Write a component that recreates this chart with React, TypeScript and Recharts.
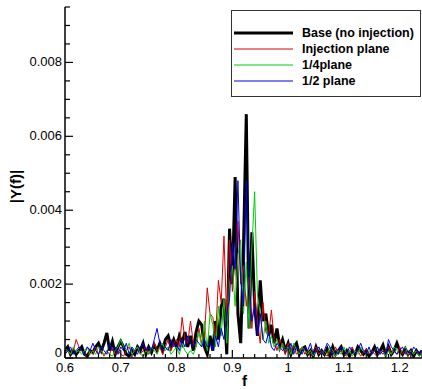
import React from 'react';
import { LineChart, Line, XAxis, YAxis, Legend, Label } from 'recharts';

// frequency samples
const F = [
  0.6, 0.605, 0.61, 0.615, 0.62, 0.625, 0.63, 0.635, 0.64, 0.645,
  0.65, 0.655, 0.66, 0.665, 0.67, 0.675, 0.68, 0.685, 0.69, 0.695,
  0.7, 0.705, 0.71, 0.715, 0.72, 0.725, 0.73, 0.735, 0.74, 0.745,
  0.75, 0.755, 0.76, 0.765, 0.77, 0.775, 0.78, 0.785, 0.79, 0.795,
  0.8, 0.805, 0.81, 0.815, 0.82, 0.825, 0.83, 0.835, 0.84, 0.845,
  0.85, 0.855, 0.86, 0.865, 0.87, 0.875, 0.88, 0.885, 0.89, 0.895,
  0.9, 0.905, 0.91, 0.915, 0.92, 0.925, 0.93, 0.935, 0.94, 0.945,
  0.95, 0.955, 0.96, 0.965, 0.97, 0.975, 0.98, 0.985, 0.99, 0.995,
  1.0, 1.005, 1.01, 1.015, 1.02, 1.025, 1.03, 1.035, 1.04, 1.045,
  1.05, 1.055, 1.06, 1.065, 1.07, 1.075, 1.08, 1.085, 1.09, 1.095,
  1.1, 1.105, 1.11, 1.115, 1.12, 1.125, 1.13, 1.135, 1.14, 1.145,
  1.15, 1.155, 1.16, 1.165, 1.17, 1.175, 1.18, 1.185, 1.19, 1.195,
  1.2, 1.205, 1.21, 1.215, 1.22, 1.225, 1.23, 1.235, 1.24,
];

// |Y(f)| in units of 1e-4
const SCALE = 1e-4;

const BASE = [
  2, 3, 1, 2, 1, 2, 3, 1, 0.5, 2,
  1.5, 3, 4, 2, 4, 6.8, 2, 4.5, 1, 3,
  4.5, 3, 1, 0.5, 2, 1, 3, 2, 4, 1,
  3, 1.5, 3.5, 2, 4, 2, 5, 6, 3, 5,
  3, 6, 4, 7, 3, 6, 2, 7, 10, 9,
  3, 1, 6, 2, 10, 5, 14, 16, 1, 35,
  20, 49, 12, 4, 30, 66, 8, 34, 14, 6,
  21, 10, 12, 6, 9, 4, 8, 3, 5, 2,
  4, 1, 3, 4, 1, 2.5, 3, 1, 2, 0.5,
  3, 1, 2, 1, 2.5, 0.5, 3, 1, 2, 3,
  1, 2, 0.5, 2, 1, 3, 2, 1, 2, 0.5,
  1.5, 3, 1, 2, 3.5, 1, 3, 1, 2, 4,
  2, 1, 2.5, 1, 2, 0.5, 2, 1, 2,
];

const INJ = [
  1, 2, 1, 2, 5, 3, 2, 1, 0.5, 2,
  1, 3, 1, 2, 0.5, 2, 1, 3, 1, 2,
  1, 0.5, 2, 3, 1, 2, 3, 1, 2, 3,
  1, 2, 4, 2, 3, 1, 3, 5, 2, 4,
  5, 3, 11, 5, 4, 10, 4, 3, 8, 4,
  6, 19, 12, 11, 6, 21, 15, 33, 10, 32,
  18, 27, 37, 20, 25, 14, 22, 8, 18, 10,
  4, 15, 7, 6, 13, 5, 2, 5, 3, 1,
  4, 2, 3, 1, 2, 3, 1, 2, 0.5, 2,
  3, 1, 2, 1, 0.5, 2, 1, 3, 1, 2,
  1, 0.5, 2, 3, 1, 2, 0.5, 1.5, 2.5, 1,
  2, 1, 0.5, 2, 1, 2, 3, 1, 2, 1,
  3, 1, 2, 0.5, 2, 1, 2, 1, 1.5,
];

const QUARTER = [
  2.5, 2, 1, 3, 1.5, 2, 1, 2, 3, 1,
  2, 1, 3, 2, 1, 2, 1, 0.5, 2, 3,
  5, 3, 2, 4, 1, 2, 3, 1, 0.5, 2,
  1, 3, 2, 1, 3, 4, 2, 3, 1, 2,
  3, 1, 4, 2, 1, 2, 1, 3, 7, 3,
  10, 2, 12, 9, 3, 14, 6, 16, 4, 20,
  25, 14, 28, 32, 12, 26, 8, 30, 45, 17,
  12, 5, 10, 4, 6, 3, 5, 2, 4, 2,
  3, 1, 4, 2, 1, 3, 2, 1, 2, 0.5,
  2, 3, 1, 2, 1, 3, 2, 0.5, 2, 1,
  3, 1, 2, 0.5, 2, 1, 3, 2, 1, 2,
  1, 2, 3, 1, 2, 0.5, 2, 1, 3, 2,
  1, 2, 3, 1, 2, 1, 2, 0.5, 1,
];

const HALF = [
  1, 2, 3, 1, 2, 3, 2, 1, 3, 2,
  4, 2, 1, 3, 2, 1, 4, 2, 3, 1,
  3, 2, 4, 1, 3, 2, 1, 3, 4, 2,
  3, 2, 5, 8, 4, 2, 3, 2, 5, 3,
  4, 2, 5, 3, 6, 4, 3, 5, 4, 3,
  5, 3, 4, 2, 6, 3, 8, 5, 12, 16,
  31, 24, 48, 21, 14, 48, 22, 10, 14, 6,
  12, 5, 4, 7, 3, 2, 4, 3, 2, 3,
  2, 4, 1, 3, 2, 1, 3, 2, 4, 1,
  2, 3, 1, 2, 4, 3, 1, 2, 1, 3,
  2, 1, 3, 2, 1, 2, 4, 2, 1, 3,
  1, 2, 3, 1, 2, 1, 5, 3, 2, 1,
  2, 3, 1, 2, 1, 3, 2, 1, 2,
];

const X_TICKS = [
  0.6, 0.62, 0.64, 0.66, 0.68, 0.7, 0.72, 0.74, 0.76, 0.78,
  0.8, 0.82, 0.84, 0.86, 0.88, 0.9, 0.92, 0.94, 0.96, 0.98,
  1.0, 1.02, 1.04, 1.06, 1.08, 1.1, 1.12, 1.14, 1.16, 1.18,
  1.2, 1.22, 1.24,
];
const Y_TICKS = [
  0, 0.0005, 0.001, 0.0015, 0.002, 0.0025, 0.003, 0.0035, 0.004, 0.0045,
  0.005, 0.0055, 0.006, 0.0065, 0.007, 0.0075, 0.008, 0.0085, 0.009, 0.0095,
];

const SERIES = [
  { key: 'base', name: 'Base (no injection)', color: '#000000', width: 3 },
  { key: 'inj', name: 'Injection plane', color: '#e00000', width: 1 },
  { key: 'quarter', name: '1/4plane', color: '#00d000', width: 1 },
  { key: 'half', name: '1/2 plane', color: '#0000e8', width: 1 },
];

const data = F.map((f, i) => ({
  f,
  base: BASE[i] * SCALE,
  inj: INJ[i] * SCALE,
  quarter: QUARTER[i] * SCALE,
  half: HALF[i] * SCALE,
}));

const FONT = '"Liberation Sans", Arial, Helvetica, sans-serif';

const isMultiple = (v: number, step: number) => Math.abs(v / step - Math.round(v / step)) < 1e-6;

const XTick = (props: any) => {
  const { x, y, payload } = props;
  const v = payload.value;
  const major = isMultiple(v, 0.1);
  return (
    <g>
      <line x1={x} y1={y} x2={x} y2={y - (major ? 8 : 4)} stroke="#000" strokeWidth={1.2} />
      {major && (
        <text x={x} y={y + 14} textAnchor="middle" fontSize={13} fontFamily={FONT} fill="#000">
          {Number(v.toFixed(1)) === 1 ? '1' : v.toFixed(1)}
        </text>
      )}
    </g>
  );
};

const YTick = (props: any) => {
  const { x, y, payload } = props;
  const v = payload.value;
  const major = isMultiple(v, 0.002);
  return (
    <g>
      <line x1={x} y1={y} x2={x + (major ? 8 : 5)} y2={y} stroke="#000" strokeWidth={1.2} />
      {major && (
        <text
          x={x - 3}
          y={v === 0 ? y - 1 : y + 4}
          textAnchor="end"
          fontSize={13}
          fontFamily={FONT}
          fill="#000"
        >
          {v === 0 ? '0' : v.toFixed(3)}
        </text>
      )}
    </g>
  );
};

const LegendBox = () => (
  <div
    style={{
      width: 190,
      height: 87,
      border: '1px solid #333',
      background: '#fff',
      boxSizing: 'border-box',
      paddingTop: 14,
      fontFamily: FONT,
      fontWeight: 'bold',
      fontSize: 12.5,
      textAlign: 'left',
    }}
  >
    {SERIES.map((s) => (
      <div key={s.key} style={{ display: 'flex', alignItems: 'center', height: 16 }}>
        <svg width={70} height={16} style={{ display: 'block' }}>
          <line x1={2} y1={8} x2={61} y2={8} stroke={s.color} strokeWidth={s.width} />
        </svg>
        <span style={{ lineHeight: '16px', color: '#000', whiteSpace: 'nowrap' }}>{s.name}</span>
      </div>
    ))}
  </div>
);

export default function App() {
  return (
    <div style={{ position: 'absolute', left: 0, top: 0, background: '#fff' }}>
      <LineChart width={422} height={389} data={data} margin={{ top: 7, right: 0, bottom: 0, left: 0 }}>
        <XAxis
          dataKey="f"
          type="number"
          domain={[0.6, 1.24]}
          allowDataOverflow
          ticks={X_TICKS}
          interval={0}
          tickSize={0}
          tickMargin={0}
          height={31}
          tick={<XTick />}
          axisLine={{ stroke: '#000', strokeWidth: 1.5 }}
        >
          <Label
            content={(p: any) => (
              <text
                x={p.viewBox.x + p.viewBox.width / 2 + 1}
                y={p.viewBox.y + 28}
                textAnchor="middle"
                fontSize={15}
                fontWeight="bold"
                fontFamily={FONT}
                fill="#000"
              >
                f
              </text>
            )}
          />
        </XAxis>
        <YAxis
          type="number"
          domain={[0, 0.0095]}
          allowDataOverflow
          ticks={Y_TICKS}
          interval={0}
          tickSize={0}
          tickMargin={0}
          width={65}
          tick={<YTick />}
          axisLine={{ stroke: '#000', strokeWidth: 1.5 }}
        >
          <Label
            content={(p: any) => {
              const cx = p.viewBox.x + 15;
              const cy = p.viewBox.y + p.viewBox.height / 2 + 4;
              return (
                <text
                  x={cx}
                  y={cy}
                  transform={`rotate(-90 ${cx} ${cy})`}
                  textAnchor="middle"
                  dominantBaseline="central"
                  fontSize={15}
                  fontWeight="bold"
                  fontFamily={FONT}
                  fill="#000"
                >
                  |Y(f)|
                </text>
              );
            }}
          />
        </YAxis>
        <Legend
          layout="horizontal"
          verticalAlign="middle"
          align="center"
          content={<LegendBox />}
          wrapperStyle={{ position: 'absolute', left: 231, top: 10, width: 190, height: 87 }}
        />
        {SERIES.map((s) => (
          <Line
            key={s.key}
            dataKey={s.key}
            name={s.name}
            type="linear"
            stroke={s.color}
            strokeWidth={s.width}
            dot={false}
            activeDot={false}
            isAnimationActive={false}
          />
        ))}
      </LineChart>
    </div>
  );
}
